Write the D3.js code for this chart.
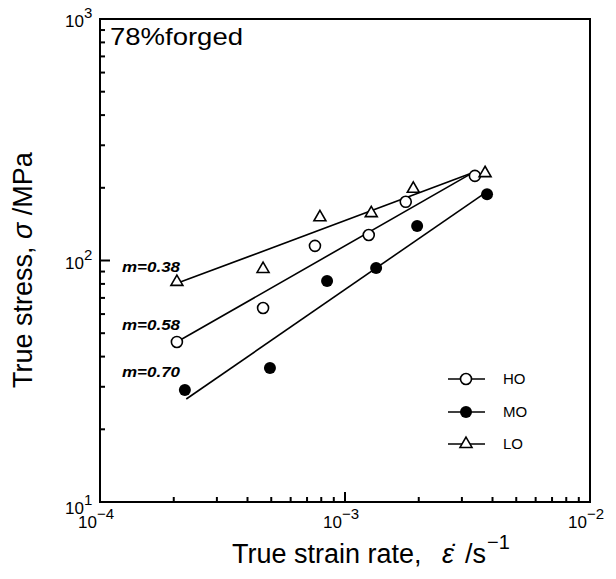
<!DOCTYPE html>
<html>
<head>
<meta charset="utf-8">
<script src="https://cdn.jsdelivr.net/npm/d3@7"></script>
<style>
  body { margin: 0; background: #fff; }
  text { font-family: "Liberation Sans", Arial, sans-serif; fill: #000; }
</style>
</head>
<body>
<div id="chart"></div>
<script>
// measured values (strain rate in 1/s, stress in MPa)
var rateHO = [2.06e-4, 4.63e-4, 7.54e-4, 1.25e-3, 1.77e-3, 3.39e-3];
var stressHO = [46, 63.6, 115, 127.5, 175, 224];
var rateMO = [2.22e-4, 4.94e-4, 8.45e-4, 1.34e-3, 1.97e-3, 3.80e-3];
var stressMO = [29.1, 35.9, 82.3, 93.1, 139, 188];
var rateLO = [2.06e-4, 4.63e-4, 7.9e-4, 1.28e-3, 1.90e-3, 3.73e-3];
var stressLO = [81.5, 92.2, 151, 157, 198, 230];

// fitted lines, end points
var fitRateLO = [2.1e-4, 3.4e-3], fitStressLO = [81, 233];
var fitRateHO = [2.1e-4, 3.3e-3], fitStressHO = [46.5, 230];
var fitRateMO = [2.25e-4, 3.8e-3], fitStressMO = [26.7, 193];

var mLabels = ["m=0.38", "m=0.58", "m=0.70"];
var legendText = ["HO", "MO", "LO"];
var xTickExp = [-4, -3, -2];
var yTickExp = [1, 2, 3];

var width = 616, height = 579;
var pLeft = 100, pRight = 590, pTop = 19, pBottom = 502;

var x = d3.scaleLog().domain([1e-4, 1e-2]).range([pLeft, pRight]);
var y = d3.scaleLog().domain([10, 1000]).range([pBottom, pTop]);

var svg = d3.select("#chart").append("svg")
    .attr("width", width)
    .attr("height", height);

function zip(a, b) { return a.map(function(d, i) { return [d, b[i]]; }); }
function isMajor(d) { return Math.abs(Math.log10(d) - Math.round(Math.log10(d))) < 1e-6; }

// frame
svg.append("rect")
    .attr("x", pLeft).attr("y", pTop)
    .attr("width", pRight - pLeft).attr("height", pBottom - pTop)
    .style("fill", "none").style("stroke", "#000").style("stroke-width", 2);

// ticks, pointing inward
var ticks = svg.append("g").attr("class", "ticks");
ticks.selectAll("line.xtick")
    .data(x.ticks())
    .enter().append("line")
    .attr("class", "xtick")
    .attr("x1", function(d) { return x(d); })
    .attr("x2", function(d) { return x(d); })
    .attr("y1", pBottom)
    .attr("y2", function(d) { return pBottom - (isMajor(d) ? 10 : 5); });

ticks.selectAll("line.ytick")
    .data(y.ticks())
    .enter().append("line")
    .attr("class", "ytick")
    .attr("y1", function(d) { return y(d); })
    .attr("y2", function(d) { return y(d); })
    .attr("x1", pLeft)
    .attr("x2", function(d) { return pLeft + (isMajor(d) ? 10 : 5); });

ticks.selectAll("line").style("stroke", "#000").style("stroke-width", 2);

// x tick labels
xTickExp.forEach(function(e) {
  var px = x(Math.pow(10, e)) - 3;
  svg.append("text").attr("x", px).attr("y", 528)
      .attr("text-anchor", "end").style("font-size", "17px").text("10");
  svg.append("text").attr("x", px).attr("y", 519)
      .style("font-size", "15px").text(e < 0 ? "\u2212" + (-e) : e);
});

// y tick labels
yTickExp.forEach(function(e) {
  var py = y(Math.pow(10, e)) + (e == 1 ? 12 : 8);
  svg.append("text").attr("x", 84).attr("y", py)
      .attr("text-anchor", "end").style("font-size", "17px").text("10");
  svg.append("text").attr("x", 84).attr("y", py - 9)
      .style("font-size", "15px").text(e);
});

// fitted lines
var line = d3.line()
    .x(function(d) { return x(d[0]); })
    .y(function(d) { return y(d[1]); });

[[fitRateLO, fitStressLO], [fitRateHO, fitStressHO], [fitRateMO, fitStressMO]].forEach(function(f) {
  svg.append("path")
      .datum(zip(f[0], f[1]))
      .attr("d", line)
      .attr("fill", "none")
      .attr("stroke", "#000")
      .attr("stroke-width", 1.6);
});

// markers
var tri = d3.symbol().type(d3.symbolTriangle).size(62);

svg.selectAll("circle.ho")
    .data(zip(rateHO, stressHO))
    .enter().append("circle")
    .attr("class", "ho")
    .attr("cx", function(d) { return x(d[0]); })
    .attr("cy", function(d) { return y(d[1]); })
    .attr("r", 5.5)
    .style("fill", "#fff").style("stroke", "#000").style("stroke-width", 1.6);

svg.selectAll("circle.mo")
    .data(zip(rateMO, stressMO))
    .enter().append("circle")
    .attr("class", "mo")
    .attr("cx", function(d) { return x(d[0]); })
    .attr("cy", function(d) { return y(d[1]); })
    .attr("r", 6)
    .style("fill", "#000");

svg.selectAll("path.lo")
    .data(zip(rateLO, stressLO))
    .enter().append("path")
    .attr("class", "lo")
    .attr("d", tri)
    .attr("transform", function(d) { return "translate(" + x(d[0]) + "," + y(d[1]) + ")"; })
    .style("fill", "#fff").style("stroke", "#000").style("stroke-width", 1.6);

// slope labels
var mY = [272, 330, 377];
mLabels.forEach(function(t, i) {
  svg.append("text").attr("x", 122).attr("y", mY[i])
      .attr("textLength", 58).attr("lengthAdjust", "spacingAndGlyphs")
      .style("font-size", "14px").style("font-weight", "bold").style("font-style", "italic")
      .text(t);
});

// legend
var legendY = [379, 412, 444];
var legend = svg.selectAll("g.legend")
    .data(legendText)
    .enter().append("g")
    .attr("class", "legend")
    .attr("transform", function(d, i) { return "translate(0," + legendY[i] + ")"; });

legend.append("line")
    .attr("x1", 448).attr("x2", 485)
    .attr("stroke", "#000").attr("stroke-width", 1.6);
legend.each(function(d, i) {
  var g = d3.select(this);
  if (i == 0) g.append("circle").attr("cx", 466).attr("r", 5.5)
      .style("fill", "#fff").style("stroke", "#000").style("stroke-width", 1.6);
  if (i == 1) g.append("circle").attr("cx", 466).attr("r", 6).style("fill", "#000");
  if (i == 2) g.append("path").attr("d", tri).attr("transform", "translate(466,0)")
      .style("fill", "#fff").style("stroke", "#000").style("stroke-width", 1.6);
});
legend.append("text")
    .attr("x", 503).attr("y", 5)
    .style("font-size", "15px")
    .text(function(d) { return d; });

// inner title
svg.append("text").attr("x", 110).attr("y", 45)
    .attr("textLength", 133).attr("lengthAdjust", "spacingAndGlyphs")
    .style("font-size", "24px").text("78%forged");

// axis titles
var xt = svg.append("text").attr("y", 563).style("font-size", "27px");
xt.append("tspan").attr("x", 232).text("True strain rate,");
xt.append("tspan").attr("x", 442).style("font-style", "italic").text("\u03b5\u0307");
xt.append("tspan").attr("x", 465).text("/s");
xt.append("tspan").attr("x", 487).attr("dy", -14).style("font-size", "20px").text("\u22121");

var yt = svg.append("text")
    .attr("transform", "translate(32,388) rotate(-90)")
    .style("font-size", "27px");
yt.append("tspan").text("True stress,  ");
yt.append("tspan").style("font-style", "italic").text("\u03c3");
yt.append("tspan").text(" /MPa");
</script>
</body>
</html>
